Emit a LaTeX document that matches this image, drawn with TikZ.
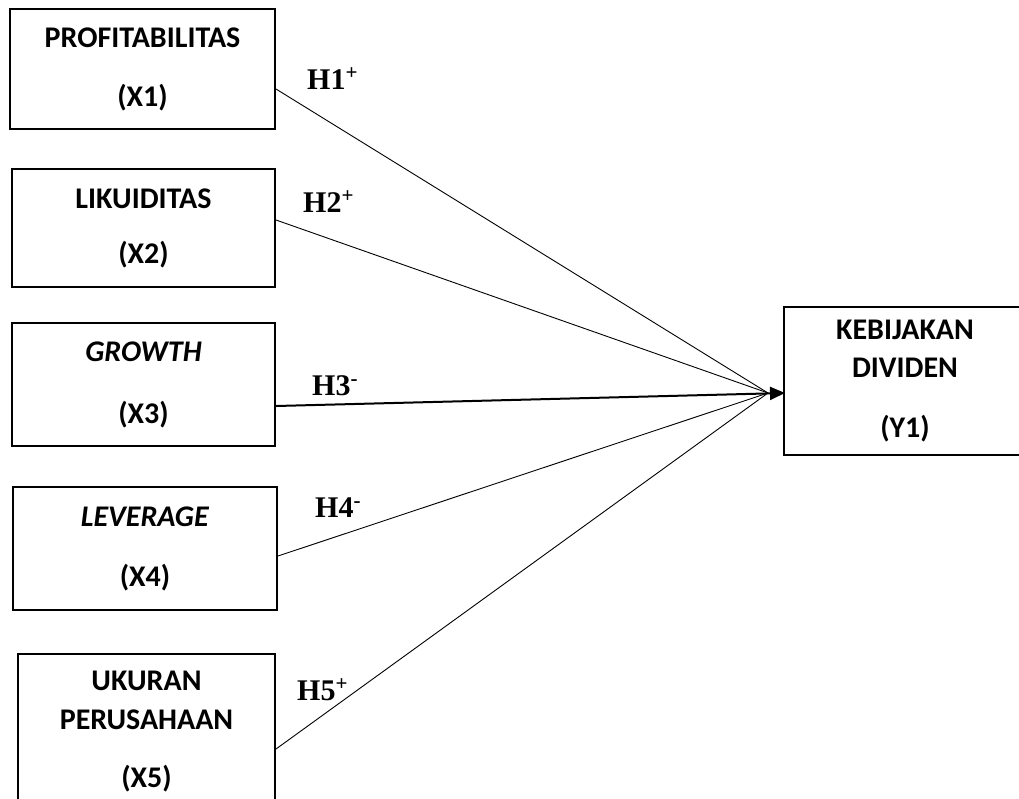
\documentclass[tikz,border=0pt]{standalone}
\usepackage{fontspec}
\setmainfont{Liberation Serif}
\setsansfont{Carlito}
\usetikzlibrary{arrows.meta}

\begin{document}
\begin{tikzpicture}[
    x=1pt, y=-1pt,
    varbox/.style={draw, line width=2pt, align=center, inner sep=0pt,
    font=\sffamily\bfseries\fontsize{30}{34}\selectfont},
    thin line/.style={line width=0.9pt},
    main line/.style={line width=2pt, -{Triangle[length=15pt,width=13pt]}},
    hyp/.style={anchor=base west, inner sep=0pt,
    font=\bfseries\fontsize{30}{34}\selectfont}
    ]
    \useasboundingbox (0,0) rectangle (1019,798);
    % Boxes
    \node[varbox, minimum width=265, minimum height=120] (x1) at (142.5,69)
        {PROFITABILITAS\\[25pt](X1)};
    \node[varbox, minimum width=263, minimum height=118] (x2) at (143.5,228)
        {LIKUIDITAS\\[21pt](X2)};
    \node[varbox, minimum width=263, minimum height=123] (x3) at (143.5,384.5)
        {\textit{GROWTH}\\[28pt](X3)};
    \node[varbox, minimum width=264, minimum height=123] (x4) at (145,548.5)
        {\textit{LEVERAGE}\\[26pt](X4)};
    \node[varbox, minimum width=257, minimum height=155] (x5) at (146.5,731.5)
        {UKURAN\\[5pt]PERUSAHAAN\\[24pt](X5)};
    \node[varbox, minimum width=242, minimum height=148] (y1) at (905,381)
        {KEBIJAKAN\\[4pt]DIVIDEN\\[26pt](Y1)};
    % Lines
    \coordinate (hub) at (768,393);
    \draw[thin line] ([yshift=-20pt]x1.east) -- (hub);
    \draw[thin line] ([yshift=8pt]x2.east) -- (hub);
    \draw[main line] ([yshift=-21.5pt]x3.east) -- ([xshift=2pt,yshift=-12pt]y1.west);
    \draw[thin line] ([yshift=-7.5pt]x4.east) -- (hub);
    \draw[thin line] ([yshift=-17.5pt]x5.east) -- (hub);
    % Labels
    \node[hyp] (h1) at (307,89) {H1\textsuperscript{+}};
    \node[hyp] (h2) at (303,212) {H2\textsuperscript{+}};
    \node[hyp] (h3) at (312,395) {H3\textsuperscript{-}};
    \node[hyp] (h4) at (315,517) {H4\textsuperscript{-}};
    \node[hyp] (h5) at (297,700) {H5\textsuperscript{+}};
\end{tikzpicture}
\end{document}
